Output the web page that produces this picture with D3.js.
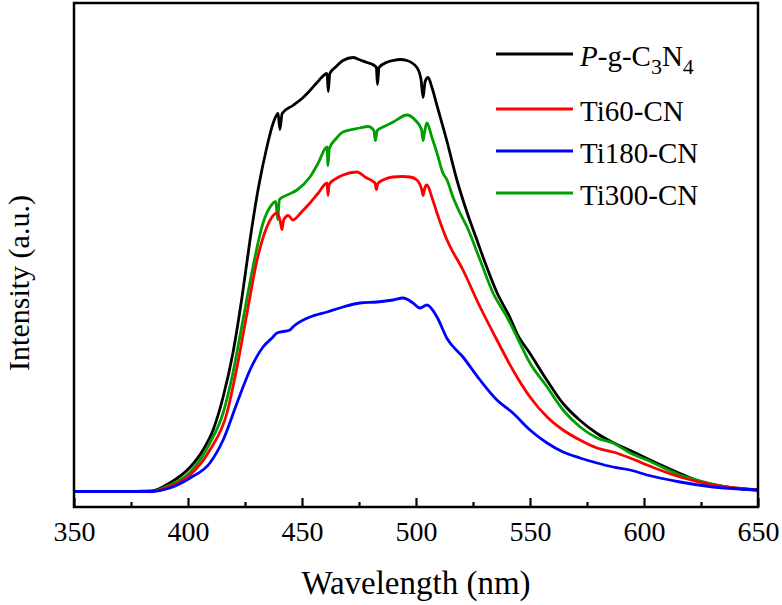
<!DOCTYPE html>
<html>
<head>
<meta charset="utf-8">
<script src="https://cdn.jsdelivr.net/npm/d3@7"></script>
<style>
  body { margin: 0; background: #fff; }
</style>
</head>
<body>
<div id="my_dataviz"></div>
<script>
// PL spectra (wavelength nm, intensity a.u.)
var pgcn = [[350,0],[370,0],[384,0.5],[392,8.5],[401,24.5],[406.6,41.5],[411,61.5],[415.4,94.5],[419.7,138.5],
  [423.7,194.5],[427.2,251.5],[430.7,301.5],[434.6,344.5],[437.3,368],[439.5,378],[440.3,362],[441.3,378],
  [446,386],[450,393],[453.5,401],[457,410],[461,418],[461.5,400],[462.2,418],[465,425],[468,431],[472.4,434],
  [475,432],[478.5,429],[481,427],[482.6,424],[483.1,407],[483.8,424],[487,429],[490,431],[493,432],[496,431],
  [500.4,424],[502.2,412],[503.1,394],[504,410],[505.3,414],[507,404],[509.2,386],[513.6,350],[518,311],
  [522.4,279],[526.8,251],[531.1,224],[535.5,199],[541.2,174],[544.3,158],[550,138],[557.5,111],[564.5,88],
  [572,71],[579.4,58],[586.4,49],[594,41],[601.3,33],[615.8,18],[623.2,11],[637.7,4],[650,1.5]];

var ti60 = [[350,0],[384,0],[392,5],[400.9,16.5],[409.6,41.5],[417.1,78.5],[421.5,124.5],[425.9,178.5],
  [430.3,231.5],[434.6,264.5],[439,278.5],[440.5,270],[441.2,262],[442,272],[444,276],[446,271.5],[450,280],
  [453.5,288.5],[457,298],[461,308.5],[461.4,296],[461.9,307],[465,313],[468,316.5],[474.1,319.5],[478,314],
  [482,308.5],[482.6,302],[483.3,308],[486,312],[489.9,314.5],[494,315],[497.4,314.5],[500.4,311.5],
  [502.5,302],[503.1,296],[503.8,303],[504.8,306.5],[507,294],[509.2,278.5],[513.6,251.5],[520.6,221.5],
  [528.1,184.5],[535.5,151.5],[542.5,121.5],[550,94.5],[557.5,74.5],[564.5,61.5],[571.9,51.5],[579.4,43.5],
  [586.4,39.5],[593.9,33.5],[601.3,26.5],[615.8,14.5],[630.3,6.5],[650,1.5]];

var ti180 = [[350,0],[384,0],[392,3.5],[400.9,13.5],[409.6,28.5],[415.4,51.5],[421.5,88.5],[427.2,121.5],
  [432.9,144.5],[437.3,154.5],[439,158.5],[444.7,161.5],[446,164.5],[453.5,174.5],[461,179.5],[468,184.5],
  [475.4,188.5],[482.9,189.5],[489.9,191.5],[494.3,193.5],[498.7,188.5],[501.8,183.5],[504.8,186.5],
  [509.2,174.5],[513.6,153],[520.6,134.5],[528.1,111.5],[535.5,91.5],[542.5,78.5],[550,61.5],[557.5,48.5],
  [564.5,39.5],[571.9,33.5],[579.4,28.5],[586.4,24.5],[593.9,21.5],[601.3,16.5],[615.8,9.5],[630.3,4.5],[650,1.5]];

var ti300 = [[350,0],[384,0],[392,6.5],[401,19.5],[409.6,48.5],[415.4,78.5],[419.7,118.5],[424.1,171.5],
  [428.5,224.5],[432.9,268.5],[436,284.5],[438.5,290],[439.3,272],[440.1,292],[444,297],[447.8,301.5],
  [453.5,314.5],[457,328],[461,344.5],[461.4,326],[462,343],[465,353],[468,359.5],[475.4,363.5],[479,365],
  [481.5,361],[482.2,351],[483,361],[486,365],[490,369.5],[496,376.5],[499.6,371.5],[502.4,362],[503.1,351],
  [503.8,360],[504.8,368.5],[507,354],[509.2,338.5],[511.8,318.5],[513.6,311.5],[516.2,294.5],[519.3,278.5],
  [522.4,264.5],[528.1,231.5],[533.8,198.5],[539.9,174.5],[544.3,154.5],[550,128.5],[557.5,104.5],
  [564.5,81.5],[572,64.5],[579.4,53.5],[586.4,48.5],[594,38.5],[601.3,31.5],[615.8,16.5],[623.2,11.5],
  [637.7,4],[650,1.5]];

var seriesNames = ["P-g-C3N4", "Ti60-CN", "Ti180-CN", "Ti300-CN"];
var seriesColors = ["#000000", "#ff0000", "#0000ff", "#009e00"];
var seriesData = [pgcn, ti60, ti180, ti300];
var xTicks = [350, 400, 450, 500, 550, 600, 650];

var serif = "'Liberation Serif'";

// make sure the serif face is loaded before drawing
var warm = document.createElement("canvas").getContext("2d");
warm.font = "30px " + serif + ", monospace";
warm.measureText("Wavelength (nm) 350 Ti60-CN");

var margin = {top: 3, right: 24, bottom: 98, left: 74},
    width = 782 - margin.left - margin.right,
    height = 605 - margin.top - margin.bottom;

var svg = d3.select("#my_dataviz")
  .append("svg")
    .attr("width", width + margin.left + margin.right)
    .attr("height", height + margin.top + margin.bottom)
  .append("g")
    .attr("transform", "translate(" + margin.left + "," + margin.top + ")");

var x = d3.scaleLinear()
  .domain([350, 650])
  .range([0, width]);

var y = d3.scaleLinear()
  .domain([-15.5, 488.5])
  .range([height, 0]);

var line = d3.line()
  .x(function(d) { return x(d[0]) })
  .y(function(d) { return y(d[1]) })
  .curve(d3.curveMonotoneX);

// draw in order so black sits under the others where they meet
[0, 3, 1, 2].forEach(function(i) {
  svg.append("path")
    .datum(seriesData[i])
    .attr("fill", "none")
    .attr("stroke", seriesColors[i])
    .attr("stroke-width", 2.8)
    .attr("stroke-linejoin", "round")
    .attr("d", line);
});

// minor ticks (inward)
svg.append("g")
  .attr("transform", "translate(0," + height + ")")
  .call(d3.axisBottom(x).tickValues(d3.range(375, 650, 50)).tickSizeInner(-5).tickSizeOuter(0).tickFormat(""));

// major ticks + labels
var xAxis = svg.append("g")
  .attr("transform", "translate(0," + height + ")")
  .call(d3.axisBottom(x).tickValues(xTicks).tickSizeInner(-9).tickSizeOuter(0).tickPadding(14).tickFormat(d3.format("d")));

svg.selectAll(".tick line").attr("stroke", "#000").attr("stroke-width", 2.2);
svg.selectAll(".domain").remove();
xAxis.selectAll("text")
  .attr("fill", "#000")
  .style("font-family", serif)
  .style("font-size", "28px");

// frame
svg.append("rect")
  .attr("x", 0).attr("y", 0)
  .attr("width", width).attr("height", height)
  .attr("fill", "none")
  .attr("stroke", "#000")
  .attr("stroke-width", 2.5);

// axis titles
svg.append("text")
  .attr("x", width / 2)
  .attr("y", 591)
  .attr("text-anchor", "middle")
  .style("font-family", serif)
  .style("font-size", "33px")
  .text("Wavelength (nm)");

svg.append("text")
  .attr("transform", "translate(-45," + 280 + ") rotate(-90)")
  .attr("text-anchor", "middle")
  .style("font-family", serif)
  .style("font-size", "30px")
  .text("Intensity (a.u.)");

// legend
var legendY = [51, 106, 148, 190];
var legend = svg.append("g");
seriesNames.forEach(function(name, i) {
  legend.append("line")
    .attr("x1", 422).attr("x2", 499)
    .attr("y1", legendY[i]).attr("y2", legendY[i])
    .attr("stroke", seriesColors[i])
    .attr("stroke-width", 2.8);
  var t = legend.append("text")
    .attr("x", 506)
    .attr("y", legendY[i] + 12)
    .style("font-family", serif)
    .style("font-size", "29px");
  if (i === 0) {
    t.append("tspan").style("font-style", "italic").text("P");
    t.append("tspan").text("-g-C");
    t.append("tspan").attr("dy", 8).style("font-size", "22px").text("3");
    t.append("tspan").attr("dy", -8).text("N");
    t.append("tspan").attr("dy", 8).style("font-size", "22px").text("4");
  } else {
    t.text(name);
  }
});
</script>
</body>
</html>
